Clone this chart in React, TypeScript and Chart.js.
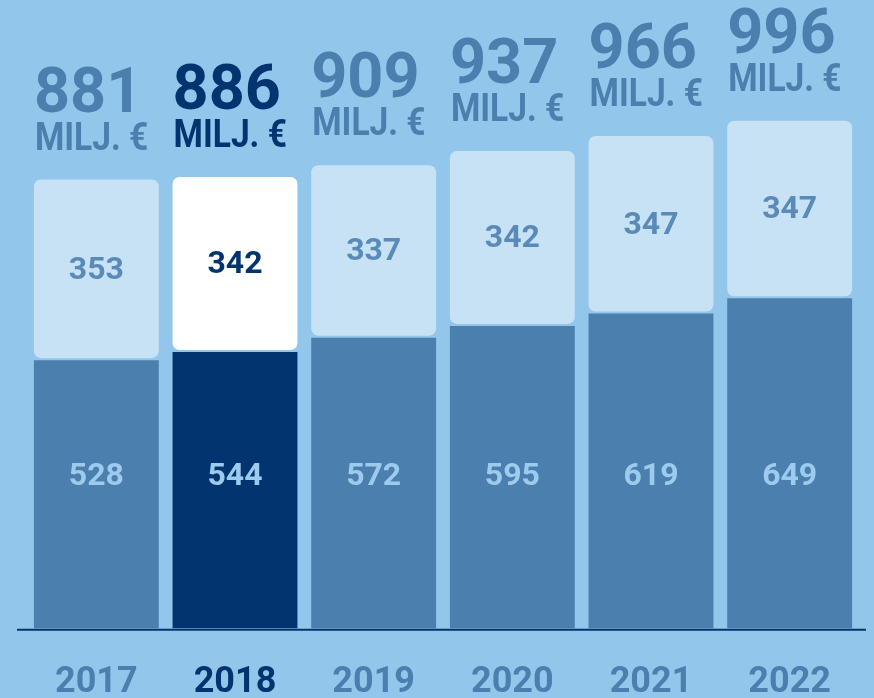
import React, { useEffect, useRef } from "react";
import { Chart, registerables } from "chart.js";

Chart.register(...registerables);

// ---- data ----
const categories = ["2017", "2018", "2019", "2020", "2021", "2022"];
const baseValues = [528, 544, 572, 595, 619, 649];
const topValues = [353, 342, 337, 342, 347, 347];
const highlightIndex = 1;
const unitLabel = "MILJ. €";

// ---- styles ----
const BG = "#93C6EB";
const MID = "#4A7FAE";
const LIGHT = "#C7E2F4";
const NAVY = "#02356F";
const WHITE = "#FFFFFF";
const TOP_LABEL = "#5A8BB8";
const BASE_LABEL = "#9CCBEE";
const FONT = "Roboto, 'Noto Sans', sans-serif";

const labelsPlugin = {
  id: "labelsPlugin",
  beforeDraw(chart: any) {
    const ctx = chart.ctx;
    ctx.save();
    ctx.fillStyle = BG;
    ctx.fillRect(0, 0, chart.width, chart.height);
    ctx.restore();
  },
  afterDatasetsDraw(chart: any) {
    const ctx = chart.ctx;
    const area = chart.chartArea;
    const m0 = chart.getDatasetMeta(0);
    const m1 = chart.getDatasetMeta(1);
    ctx.save();
    // axis line
    ctx.strokeStyle = NAVY;
    ctx.lineWidth = 2;
    ctx.beginPath();
    ctx.moveTo(area.left - 10, area.bottom + 0.5);
    ctx.lineTo(area.right + 7, area.bottom + 0.5);
    ctx.stroke();

    categories.forEach((_, i) => {
      const hl = i === highlightIndex;
      const b = m0.data[i];
      const t = m1.data[i];
      // top segment label
      ctx.textAlign = "center";
      ctx.textBaseline = "middle";
      ctx.font = `bold 32px ${FONT}`;
      ctx.fillStyle = hl ? NAVY : TOP_LABEL;
      ctx.fillText(String(topValues[i]), t.x, (t.y + t.base) / 2 + 2);
      // base segment label
      ctx.fillStyle = BASE_LABEL;
      ctx.fillText(String(baseValues[i]), b.x, area.bottom - 152);
      // totals
      const total = baseValues[i] + topValues[i];
      const left = t.x - t.width / 2 + 2;
      const unitBase = t.y - 29;
      ctx.textAlign = "left";
      ctx.textBaseline = "alphabetic";
      ctx.fillStyle = hl ? NAVY : MID;
      ctx.save();
      ctx.translate(left, unitBase);
      ctx.scale(0.86, 1);
      ctx.font = `bold 39px ${FONT}`;
      ctx.fillText(unitLabel, 0, 0);
      ctx.restore();
      ctx.font = `bold 63px ${FONT}`;
      ctx.fillText(String(total), left - 1, unitBase - 38);
    });
    ctx.restore();
  },
};

export default function App() {
  const ref = useRef<HTMLCanvasElement>(null);
  useEffect(() => {
    if (!ref.current) return;
    const chart = new Chart(ref.current, {
      type: "bar",
      data: {
        labels: categories,
        datasets: [
          {
            label: "base",
            data: baseValues,
            backgroundColor: categories.map((_, i) => (i === highlightIndex ? NAVY : MID)),
            borderColor: BG,
            borderWidth: 1,
            borderRadius: 8,
            borderSkipped: false,
            categoryPercentage: 1,
            barPercentage: 0.915,
          },
          {
            label: "top",
            data: topValues,
            backgroundColor: categories.map((_, i) => (i === highlightIndex ? WHITE : LIGHT)),
            borderColor: BG,
            borderWidth: 1,
            borderRadius: 8,
            borderSkipped: false,
            categoryPercentage: 1,
            barPercentage: 0.915,
          },
        ],
      },
      options: {
        responsive: false,
        animation: false,
        layout: { padding: { left: 27, right: 15, top: 0, bottom: -39.5 } },
        plugins: { legend: { display: false }, tooltip: { enabled: false } },
        scales: {
          x: {
            stacked: true,
            grid: { display: false, drawTicks: false },
            border: { display: false },
            ticks: {
              padding: 37,
              font: { family: FONT, size: 36, weight: "bold", lineHeight: 0.95 },
              color: (c: any) => (c.index === highlightIndex ? NAVY : MID),
            },
          },
          y: { stacked: true, display: false, min: 0, max: 1230 },
        },
      },
      plugins: [labelsPlugin],
    });
    return () => chart.destroy();
  }, []);
  return (
    <div style={{ position: "fixed", left: 0, top: 0, width: 874, height: 698, background: BG }}>
      <canvas ref={ref} width={874} height={698} style={{ display: "block" }} />
    </div>
  );
}
